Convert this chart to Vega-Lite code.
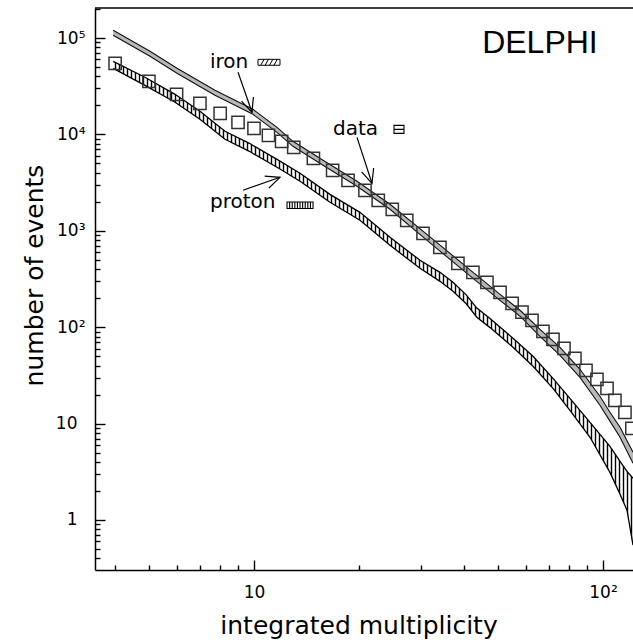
{
  "$schema": "https://vega.github.io/schema/vega-lite/v6.json",
  "width": 538,
  "height": 562,
  "autosize": {"type": "none"},
  "padding": {"left": 95, "top": 8, "right": 0, "bottom": 74},
  "background": "#ffffff",
  "config": {
    "view": {"stroke": null},
    "axis": {"domainColor": "#000", "domainWidth": 1.5, "tickColor": "#000", "tickWidth": 1.4, "labelFont": "DejaVu Sans", "labelFontSize": 17, "labelColor": "#000", "titleFont": "DejaVu Sans", "titleFontSize": 25, "titleFontWeight": "normal", "titleColor": "#000", "grid": false},
    "text": {"font": "DejaVu Sans", "color": "#000"}
  },
  "datasets": {
    "points": [
      {"m": 4, "n": 54600}, {"m": 5, "n": 35550}, {"m": 6, "n": 26060}, {"m": 7, "n": 21020}, {"m": 8, "n": 16550},
      {"m": 9, "n": 13350}, {"m": 10, "n": 11570}, {"m": 11, "n": 9790}, {"m": 12, "n": 8480}, {"m": 13, "n": 7350},
      {"m": 14.8, "n": 5650}, {"m": 16.8, "n": 4242}, {"m": 18.6, "n": 3341}, {"m": 20.8, "n": 2632}, {"m": 22.7, "n": 2072},
      {"m": 24.9, "n": 1671}, {"m": 27.4, "n": 1285}, {"m": 30.5, "n": 942}, {"m": 34.1, "n": 674}, {"m": 38.4, "n": 460},
      {"m": 42.4, "n": 371}, {"m": 46.5, "n": 292}, {"m": 50.7, "n": 230}, {"m": 54.9, "n": 177}, {"m": 58.6, "n": 143},
      {"m": 62.6, "n": 118}, {"m": 67.3, "n": 90.7}, {"m": 71.9, "n": 74.9}, {"m": 77.3, "n": 60.4}, {"m": 83.1, "n": 47.6},
      {"m": 89.4, "n": 35.7}, {"m": 96.1, "n": 28.8}, {"m": 102.7, "n": 23.2}, {"m": 108.2, "n": 17.4}, {"m": 115.6, "n": 13.1},
      {"m": 121, "n": 8.9}
    ],
    "proton": [
      {"m": 3.95, "hi": 57320, "lo": 48500}, {"m": 4.87, "hi": 39130, "lo": 32310}, {"m": 5.94, "hi": 26060, "lo": 21530},
      {"m": 7.0, "hi": 17360, "lo": 14340}, {"m": 8.26, "hi": 10770, "lo": 8897}, {"m": 9.7, "hi": 8085, "lo": 6678},
      {"m": 11.64, "hi": 5516, "lo": 4557}, {"m": 13.55, "hi": 3949, "lo": 3262}, {"m": 16.51, "hi": 2390, "lo": 1975},
      {"m": 20.12, "hi": 1555, "lo": 1285}, {"m": 24.53, "hi": 856, "lo": 707}, {"m": 29.9, "hi": 494, "lo": 408},
      {"m": 34.12, "hi": 371, "lo": 299}, {"m": 37.17, "hi": 292, "lo": 236}, {"m": 40.5, "hi": 218, "lo": 176},
      {"m": 43.5, "hi": 158, "lo": 127}, {"m": 47.46, "hi": 123, "lo": 99}, {"m": 55.23, "hi": 76.7, "lo": 61.9},
      {"m": 63.02, "hi": 49.9, "lo": 39.3}, {"m": 71.9, "hi": 29.5, "lo": 23.2}, {"m": 80.4, "hi": 18.3, "lo": 13.7},
      {"m": 91.8, "hi": 10.3, "lo": 7.21}, {"m": 104.7, "hi": 5.81, "lo": 3.12}, {"m": 111.9, "hi": 4.06, "lo": 1.85},
      {"m": 117.2, "hi": 3.2, "lo": 1.26}, {"m": 121.9, "hi": 2.71, "lo": 0.548}
    ],
    "iron": [
      {"m": 3.95, "hi": 120200, "lo": 106700}, {"m": 5.035, "hi": 72780, "lo": 64600}, {"m": 6.017, "hi": 48500, "lo": 43030},
      {"m": 7.73, "hi": 28680, "lo": 25440}, {"m": 9.93, "hi": 18210, "lo": 16160}, {"m": 11.64, "hi": 11850, "lo": 10510},
      {"m": 12.93, "hi": 8480, "lo": 7526}, {"m": 15.77, "hi": 5386, "lo": 4779}, {"m": 19.73, "hi": 3262, "lo": 2894},
      {"m": 24.53, "hi": 1883, "lo": 1671}, {"m": 32.58, "hi": 816, "lo": 707}, {"m": 40.76, "hi": 418, "lo": 362},
      {"m": 50.7, "hi": 219, "lo": 190}, {"m": 57.84, "hi": 150, "lo": 130}, {"m": 65.98, "hi": 95.1, "lo": 80.5},
      {"m": 75.3, "hi": 61.9, "lo": 51.1}, {"m": 85.9, "hi": 36.6, "lo": 30.2}, {"m": 98.0, "hi": 19.2, "lo": 15.5},
      {"m": 104.7, "hi": 13.1, "lo": 10.6}, {"m": 111.9, "hi": 9.16, "lo": 7.21}, {"m": 121.9, "hi": 5.04, "lo": 3.88}
    ]
  },
  "resolve": {"scale": {"x": "independent"}, "axis": {"x": "independent"}},
  "layer": [
    {
      "data": {"name": "proton"},
      "mark": {"type": "point", "opacity": 0},
      "encoding": {
        "x": {"field": "m", "type": "quantitative", "scale": {"type": "linear", "domain": [0, 672.5], "nice": false, "zero": false},
          "axis": {"orient": "top", "grid": true, "gridColor": "#000", "gridWidth": 1.4, "gridOpacity": 1, "tickCount": 135, "ticks": false, "labels": false, "domain": false, "title": null, "zindex": 0}}
      }
    },
    {
      "layer": [
        {
          "data": {"name": "proton"},
          "mark": {"type": "area", "color": "#ffffff", "opacity": 1},
          "encoding": {
            "x": {"field": "m", "type": "quantitative", "scale": {"type": "log", "domain": [3.503, 121.9], "nice": false},
              "axis": {"orient": "bottom", "values": [4, 5, 6, 7, 8, 9, 10, 20, 30, 40, 50, 60, 70, 80, 90, 100],
                "tickSize": {"condition": {"test": "datum.value==10||datum.value==100", "value": -10}, "value": -5},
                "labelExpr": "datum.value==10?'10':datum.value==100?'10²':''",
                "labelPadding": 24, "labelFlush": false, "labelOverlap": false,
                "title": "integrated multiplicity", "titleX": 263.5, "titleY": 63, "titleBaseline": "alphabetic", "titleAlign": "center", "zindex": 1, "grid": false}},
            "y": {"field": "hi", "type": "quantitative", "scale": {"type": "log", "domain": [0.3029, 204800], "nice": false},
              "axis": {"orient": "left", "values": [0.4, 0.5, 0.6, 0.7, 0.8, 0.9, 1, 2, 3, 4, 5, 6, 7, 8, 9, 10, 20, 30, 40, 50, 60, 70, 80, 90, 100, 200, 300, 400, 500, 600, 700, 800, 900, 1000, 2000, 3000, 4000, 5000, 6000, 7000, 8000, 9000, 10000, 20000, 30000, 40000, 50000, 60000, 70000, 80000, 90000, 100000, 200000],
                "tickSize": {"condition": {"test": "datum.value==1||datum.value==10||datum.value==100||datum.value==1000||datum.value==10000||datum.value==100000", "value": -10}, "value": -5},
                "labelExpr": "datum.value==100000?'10⁵':datum.value==10000?'10⁴':datum.value==1000?'10³':datum.value==100?'10²':datum.value==10?'10':datum.value==1?'1':''",
                "labelPadding": {"condition": {"test": "datum.value==1||datum.value==10", "value": 28}, "value": 20},
                "labelFlush": false, "labelOverlap": false,
                "title": "number of events", "titleAngle": 270, "titleX": -53, "titleY": 267, "titleBaseline": "alphabetic", "titleAlign": "center", "zindex": 1, "grid": false}},
            "y2": {"datum": 215000}
          }
        },
        {
          "data": {"name": "proton"},
          "mark": {"type": "area", "color": "#ffffff", "opacity": 1},
          "encoding": {
            "x": {"field": "m", "type": "quantitative", "scale": {"type": "log", "domain": [3.503, 121.9], "nice": false}},
            "y": {"field": "lo", "type": "quantitative", "scale": {"type": "log", "domain": [0.3029, 204800], "nice": false}},
            "y2": {"datum": 0.29}
          }
        },
        {
          "data": {"values": [{}]},
          "mark": {"type": "rect", "color": "#ffffff", "opacity": 1},
          "encoding": {
            "x": {"datum": 3.45, "type": "quantitative", "scale": {"type": "log", "domain": [3.503, 121.9], "nice": false}},
            "x2": {"datum": 3.965},
            "y": {"datum": 0.29, "type": "quantitative", "scale": {"type": "log", "domain": [0.3029, 204800], "nice": false}},
            "y2": {"datum": 215000}
          }
        },
        {
          "data": {"name": "proton"},
          "mark": {"type": "line", "color": "#000", "strokeWidth": 1.3},
          "encoding": {
            "x": {"field": "m", "type": "quantitative", "scale": {"type": "log", "domain": [3.503, 121.9], "nice": false}},
            "y": {"field": "hi", "type": "quantitative", "scale": {"type": "log", "domain": [0.3029, 204800], "nice": false}}
          }
        },
        {
          "data": {"name": "proton"},
          "mark": {"type": "line", "color": "#000", "strokeWidth": 1.3},
          "encoding": {
            "x": {"field": "m", "type": "quantitative", "scale": {"type": "log", "domain": [3.503, 121.9], "nice": false}},
            "y": {"field": "lo", "type": "quantitative", "scale": {"type": "log", "domain": [0.3029, 204800], "nice": false}}
          }
        },
        {
          "data": {"name": "iron"},
          "mark": {"type": "area", "color": "#b8b8b8", "opacity": 1},
          "encoding": {
            "x": {"field": "m", "type": "quantitative", "scale": {"type": "log", "domain": [3.503, 121.9], "nice": false}},
            "y": {"field": "hi", "type": "quantitative", "scale": {"type": "log", "domain": [0.3029, 204800], "nice": false}},
            "y2": {"field": "lo"}
          }
        },
        {
          "data": {"name": "iron"},
          "mark": {"type": "line", "color": "#111", "strokeWidth": 1.1},
          "encoding": {
            "x": {"field": "m", "type": "quantitative", "scale": {"type": "log", "domain": [3.503, 121.9], "nice": false}},
            "y": {"field": "hi", "type": "quantitative", "scale": {"type": "log", "domain": [0.3029, 204800], "nice": false}}
          }
        },
        {
          "data": {"name": "iron"},
          "mark": {"type": "line", "color": "#111", "strokeWidth": 1.1},
          "encoding": {
            "x": {"field": "m", "type": "quantitative", "scale": {"type": "log", "domain": [3.503, 121.9], "nice": false}},
            "y": {"field": "lo", "type": "quantitative", "scale": {"type": "log", "domain": [0.3029, 204800], "nice": false}}
          }
        },
        {
          "data": {"name": "points"},
          "mark": {"type": "point", "shape": "square", "filled": false, "size": 150, "strokeWidth": 1.5, "color": "#333", "opacity": 1},
          "encoding": {
            "x": {"field": "m", "type": "quantitative", "scale": {"type": "log", "domain": [3.503, 121.9], "nice": false}},
            "y": {"field": "n", "type": "quantitative", "scale": {"type": "log", "domain": [0.3029, 204800], "nice": false}}
          }
        },
        {
          "data": {"values": [{}]},
          "mark": {"type": "text", "text": "iron", "fontSize": 20, "align": "left", "baseline": "alphabetic"},
          "encoding": {
            "x": {"datum": 7.48, "type": "quantitative", "scale": {"type": "log", "domain": [3.503, 121.9], "nice": false}},
            "y": {"datum": 48500, "type": "quantitative", "scale": {"type": "log", "domain": [0.3029, 204800], "nice": false}}
          }
        },
        {
          "data": {"values": [{}]},
          "mark": {"type": "text", "text": "data", "fontSize": 20, "align": "left", "baseline": "alphabetic"},
          "encoding": {
            "x": {"datum": 16.84, "type": "quantitative", "scale": {"type": "log", "domain": [3.503, 121.9], "nice": false}},
            "y": {"datum": 9790, "type": "quantitative", "scale": {"type": "log", "domain": [0.3029, 204800], "nice": false}}
          }
        },
        {
          "data": {"values": [{}]},
          "mark": {"type": "text", "text": "proton", "fontSize": 20, "align": "left", "baseline": "alphabetic"},
          "encoding": {
            "x": {"datum": 7.48, "type": "quantitative", "scale": {"type": "log", "domain": [3.503, 121.9], "nice": false}},
            "y": {"datum": 1712, "type": "quantitative", "scale": {"type": "log", "domain": [0.3029, 204800], "nice": false}}
          }
        },
        {
          "data": {"values": [{}]},
          "mark": {"type": "text", "text": "DELPHI", "font": "Liberation Sans", "fontSize": 32, "align": "center", "baseline": "alphabetic"},
          "encoding": {
            "x": {"datum": 65.98, "type": "quantitative", "scale": {"type": "log", "domain": [3.503, 121.9], "nice": false}},
            "y": {"datum": 69390, "type": "quantitative", "scale": {"type": "log", "domain": [0.3029, 204800], "nice": false}}
          }
        },
        {
          "data": {"values": [{}]},
          "mark": {"type": "rule", "color": "#000", "strokeWidth": 1.2},
          "encoding": {
            "x": {"datum": 9.0, "type": "quantitative", "scale": {"type": "log", "domain": [3.503, 121.9], "nice": false}},
            "y": {"datum": 44080, "type": "quantitative", "scale": {"type": "log", "domain": [0.3029, 204800], "nice": false}},
            "x2": {"datum": 9.87},
            "y2": {"datum": 16960}
          }
        },
        {
          "data": {"values": [{}]},
          "mark": {"type": "point", "shape": "M-1,-0.45L0,0L-1,0.45", "size": 784, "filled": false, "color": "#000", "strokeWidth": 1.2, "angle": 71, "opacity": 1},
          "encoding": {
            "x": {"datum": 9.87, "type": "quantitative", "scale": {"type": "log", "domain": [3.503, 121.9], "nice": false}},
            "y": {"datum": 16960, "type": "quantitative", "scale": {"type": "log", "domain": [0.3029, 204800], "nice": false}}
          }
        },
        {
          "data": {"values": [{}]},
          "mark": {"type": "rule", "color": "#000", "strokeWidth": 1.2},
          "encoding": {
            "x": {"datum": 19.73, "type": "quantitative", "scale": {"type": "log", "domain": [3.503, 121.9], "nice": false}},
            "y": {"datum": 9330, "type": "quantitative", "scale": {"type": "log", "domain": [0.3029, 204800], "nice": false}},
            "x2": {"datum": 21.78},
            "y2": {"datum": 3110}
          }
        },
        {
          "data": {"values": [{}]},
          "mark": {"type": "point", "shape": "M-1,-0.45L0,0L-1,0.45", "size": 784, "filled": false, "color": "#000", "strokeWidth": 1.2, "angle": 72, "opacity": 1},
          "encoding": {
            "x": {"datum": 21.78, "type": "quantitative", "scale": {"type": "log", "domain": [3.503, 121.9], "nice": false}},
            "y": {"datum": 3110, "type": "quantitative", "scale": {"type": "log", "domain": [0.3029, 204800], "nice": false}}
          }
        },
        {
          "data": {"values": [{}]},
          "mark": {"type": "rule", "color": "#000", "strokeWidth": 1.2},
          "encoding": {
            "x": {"datum": 9.3, "type": "quantitative", "scale": {"type": "log", "domain": [3.503, 121.9], "nice": false}},
            "y": {"datum": 2632, "type": "quantitative", "scale": {"type": "log", "domain": [0.3029, 204800], "nice": false}},
            "x2": {"datum": 11.87},
            "y2": {"datum": 3589}
          }
        },
        {
          "data": {"values": [{}]},
          "mark": {"type": "point", "shape": "M-1,-0.45L0,0L-1,0.45", "size": 784, "filled": false, "color": "#000", "strokeWidth": 1.2, "angle": 340, "opacity": 1},
          "encoding": {
            "x": {"datum": 11.87, "type": "quantitative", "scale": {"type": "log", "domain": [3.503, 121.9], "nice": false}},
            "y": {"datum": 3589, "type": "quantitative", "scale": {"type": "log", "domain": [0.3029, 204800], "nice": false}}
          }
        },
        {
          "data": {"values": [{}]},
          "mark": {"type": "point", "shape": "M-1,-0.27L1,-0.27L1,0.27L-1,0.27Z M-0.75,0.27L-0.45,-0.27 M-0.35,0.27L-0.05,-0.27 M0.05,0.27L0.35,-0.27 M0.45,0.27L0.75,-0.27", "size": 484, "filled": false, "color": "#000", "strokeWidth": 1, "opacity": 1},
          "encoding": {
            "x": {"datum": 11.04, "type": "quantitative", "scale": {"type": "log", "domain": [3.503, 121.9], "nice": false}},
            "y": {"datum": 55980, "type": "quantitative", "scale": {"type": "log", "domain": [0.3029, 204800], "nice": false}}
          }
        },
        {
          "data": {"values": [{}]},
          "mark": {"type": "point", "shape": "M-1,-0.8L1,-0.8L1,0.8L-1,0.8Z M-1,0L1,0", "size": 100, "filled": false, "color": "#000", "strokeWidth": 1.1, "opacity": 1},
          "encoding": {
            "x": {"datum": 26.03, "type": "quantitative", "scale": {"type": "log", "domain": [3.503, 121.9], "nice": false}},
            "y": {"datum": 11290, "type": "quantitative", "scale": {"type": "log", "domain": [0.3029, 204800], "nice": false}}
          }
        },
        {
          "data": {"values": [{}]},
          "mark": {"type": "point", "shape": "M-1,-0.25L1,-0.25L1,0.25L-1,0.25Z M-0.8,-0.25L-0.8,0.25 M-0.6,-0.25L-0.6,0.25 M-0.4,-0.25L-0.4,0.25 M-0.2,-0.25L-0.2,0.25 M0,-0.25L0,0.25 M0.2,-0.25L0.2,0.25 M0.4,-0.25L0.4,0.25 M0.6,-0.25L0.6,0.25 M0.8,-0.25L0.8,0.25", "size": 676, "filled": false, "color": "#000", "strokeWidth": 1.1, "opacity": 1},
          "encoding": {
            "x": {"datum": 13.55, "type": "quantitative", "scale": {"type": "log", "domain": [3.503, 121.9], "nice": false}},
            "y": {"datum": 1843, "type": "quantitative", "scale": {"type": "log", "domain": [0.3029, 204800], "nice": false}}
          }
        },
        {
          "data": {"values": [{}]},
          "mark": {"type": "rule", "color": "#000", "strokeWidth": 1.5},
          "encoding": {
            "y": {"datum": 204800, "type": "quantitative", "scale": {"type": "log", "domain": [0.3029, 204800], "nice": false}}
          }
        }
      ]
    }
  ]
}
